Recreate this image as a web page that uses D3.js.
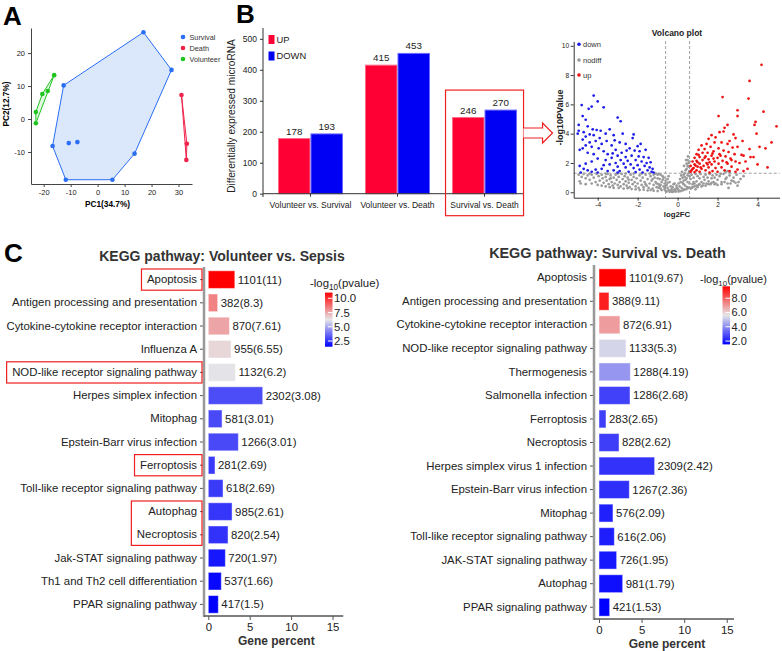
<!DOCTYPE html>
<html><head><meta charset="utf-8">
<script src="https://cdn.jsdelivr.net/npm/d3@7"></script>
<style>
body{margin:0;background:#fff;}
svg{display:block;font-family:"Liberation Sans",Arial,Helvetica,sans-serif;}
</style></head><body>
<svg id="c" width="782" height="651"></svg>
<script>
// ---------------- DATA ----------------
// Panel A: PCA
const pcaGroups = ["Survival", "Death", "Volunteer"];
const pcaSurvival = [[17.0,26.3],[27.4,14.9],[13.7,-10.5],[5.5,-18.4],[-11.8,-18.4],[-16.7,-8.2],[-12.6,10.2],[-10.7,-7.3],[-7.5,-7.0]];
const pcaDeath = [[31.1,7.3],[33.1,-7.5],[32.9,-12.4]];
const pcaVolunteer = [[-16.1,13.3],[-18.5,8.5],[-20.5,7.6],[-22.9,2.1],[-22.9,-1.3]];
const pcaTicksX = [-20,-10,0,10,20,30];
const pcaTicksY = [-10,0,10,20];

// Panel B: DE microRNA counts
const degComparisons = ["Volunteer vs. Survival", "Volunteer vs. Death", "Survival vs. Death"];
const degUp = [178, 415, 246];
const degDown = [193, 453, 270];
const degTicks = [0,100,200,300,400,500];

// Panel B: volcano plot (log2FC, -log10 p)
const volcanoDown = [[-4.2,6.6],[-4.0,6.2],[-4.8,5.95],[-3.7,5.8],[-4.3,5.85],[-4.45,5.7],[-4.75,5.2],[-3.0,5.1],[-4.6,4.95],[-4.95,4.6],[-2.85,4.85],[-4.5,4.5],[-4.25,4.3],[-4.05,4.25],[-3.85,4.2],[-4.95,4.2],[-5.0,4.0],[-4.7,4.1],[-4.4,3.95],[-4.6,3.8],[-4.2,3.9],[-3.9,3.7],[-3.6,4.0],[-3.4,4.3],[-3.2,3.9],[-2.75,4.0],[-2.2,3.95],[-2.25,3.7],[-4.75,3.6],[-4.4,3.4],[-4.1,3.5],[-3.8,3.3],[-3.55,3.5],[-4.6,3.2],[-4.3,3.1],[-3.95,3.0],[-3.3,3.2],[-2.9,3.4],[-2.6,3.3],[-2.0,3.15],[-1.85,3.3],[-2.4,3.0],[-2.15,2.85],[-1.9,2.8],[-1.6,2.9],[-3.7,2.8],[-3.5,2.6],[-3.1,2.9],[-2.8,2.7],[-4.5,2.7],[-4.9,2.9],[-4.2,2.6],[-3.0,2.5],[-2.6,2.4],[-2.3,2.5],[-1.95,2.45],[-1.7,2.4],[-1.45,2.35],[-3.3,2.35],[-3.6,2.2],[-2.85,2.2],[-2.5,2.15],[-2.1,2.2],[-1.8,2.1],[-1.55,2.0],[-1.35,2.05],[-3.1,2.0],[-2.7,1.95],[-2.35,1.9],[-2.0,1.85],[-1.65,1.8],[-1.4,1.7],[-1.25,1.6],[-3.4,1.9],[-3.0,1.75],[-2.6,1.7],[-2.2,1.65],[-1.9,1.55],[-1.5,1.5],[-1.3,1.4],[-4.9,1.8],[-4.7,1.6],[-4.5,1.5],[-4.3,1.4],[-4.6,1.95],[-4.1,1.55],[-3.8,1.6],[-3.5,1.45],[-3.2,1.5],[-2.9,1.45],[-2.45,1.4],[-2.1,1.38],[-1.75,1.35],[-4.0,1.35],[-3.0,1.35],[-1.2,1.35],[-4.85,1.35],[-3.7,1.85],[-4.3,2.1],[-4.0,2.3],[-2.55,2.85],[-3.25,2.65],[-4.75,3.0],[-3.15,3.55]];
const volcanoUp = [[4.2,8.7],[3.6,7.6],[3.55,6.4],[2.25,6.5],[4.3,5.5],[3.0,5.6],[3.0,5.2],[2.05,5.2],[3.9,4.8],[4.95,4.5],[3.85,4.6],[2.5,4.6],[2.35,4.4],[2.3,4.15],[2.1,4.1],[3.95,4.0],[4.7,3.4],[4.1,3.1],[4.4,3.0],[3.6,2.95],[3.65,2.4],[3.8,2.4],[3.3,2.5],[3.5,1.6],[4.0,1.9],[3.1,2.0],[2.8,3.95],[2.9,3.7],[2.6,3.5],[1.7,3.9],[1.9,3.75],[1.55,3.65],[2.2,3.4],[1.85,3.4],[1.45,3.3],[1.2,3.2],[2.5,3.3],[3.0,3.1],[2.75,3.05],[1.65,3.1],[2.05,3.0],[1.35,2.95],[1.05,2.9],[2.3,2.85],[1.8,2.8],[2.55,2.75],[1.5,2.7],[1.25,2.7],[0.95,2.6],[2.1,2.6],[2.85,2.6],[3.2,2.55],[1.7,2.5],[2.4,2.45],[1.4,2.45],[1.1,2.4],[0.85,2.35],[2.0,2.35],[2.65,2.3],[1.55,2.25],[1.25,2.2],[0.95,2.15],[0.75,2.1],[2.25,2.15],[1.85,2.1],[2.9,2.1],[1.45,2.0],[1.1,1.95],[0.85,1.9],[0.65,1.8],[2.05,1.95],[1.7,1.9],[2.5,1.95],[1.3,1.8],[1.0,1.75],[0.8,1.65],[0.7,1.5],[1.55,1.7],[2.2,1.7],[1.9,1.65],[2.7,1.75],[1.2,1.6],[0.95,1.5],[1.4,1.5],[1.75,1.45],[2.35,1.5],[2.6,1.45],[0.65,1.4],[0.85,1.38],[1.1,1.4],[1.6,1.35],[2.0,1.4],[3.0,1.55],[3.3,1.45],[2.9,1.4],[0.75,1.6],[1.0,2.05],[1.35,2.35],[1.6,2.05],[2.15,2.5],[2.45,2.05],[0.9,1.82],[1.15,1.7],[1.5,1.9],[1.8,2.3],[2.7,2.2],[3.4,2.1],[1.05,2.55],[1.75,2.65],[3.25,3.5],[4.5,1.7]];
const volcanoNodiff = [[-4.95,1.2],[-4.9,0.75],[-4.8,1.05],[-4.7,1.25],[-4.6,0.95],[-4.5,1.15],[-4.4,0.85],[-4.3,1.2],[-4.2,1.0],[-4.1,0.7],[-4.05,1.25],[-4.85,0.6],[-3.95,1.1],[-3.9,0.8],[-3.8,1.2],[-3.75,0.95],[-3.7,0.65],[-3.6,1.05],[-3.55,0.8],[-3.5,1.25],[-3.45,0.55],[-3.4,0.9],[-3.35,1.15],[-3.3,0.7],[-3.25,0.45],[-3.2,1.0],[-3.15,0.6],[-3.1,1.2],[-3.05,0.85],[-3.0,0.5],[-2.95,1.05],[-2.9,0.7],[-2.85,0.4],[-2.8,1.25],[-2.75,0.9],[-2.7,0.55],[-2.65,1.1],[-2.6,0.75],[-2.55,0.45],[-2.5,1.0],[-2.45,0.65],[-2.4,0.35],[-2.35,1.2],[-2.3,0.85],[-2.25,0.55],[-2.2,1.05],[-2.15,0.7],[-2.1,0.4],[-2.05,0.95],[-2.0,0.6],[-2.6,1.28],[-2.2,1.28],[-3.0,1.28],[-1.95,0.3],[-1.9,1.15],[-1.85,0.8],[-1.8,0.5],[-1.75,1.0],[-1.7,0.35],[-1.65,0.7],[-1.6,1.2],[-1.55,0.45],[-1.5,0.9],[-1.45,0.3],[-1.4,0.6],[-1.35,1.1],[-1.3,0.8],[-1.25,0.25],[-1.2,0.5],[-1.15,1.0],[-1.1,0.7],[-1.05,0.35],[-1.0,1.2],[-1.8,1.28],[-1.4,1.28],[-1.1,1.28],[-0.95,0.55],[-0.9,0.9],[-0.85,0.25],[-0.8,0.7],[-0.75,1.1],[-0.7,0.4],[-0.65,0.2],[-0.6,0.8],[-0.95,1.25],[-0.7,1.0],[-0.8,0.15],[-0.55,0.5],[-0.5,0.3],[-0.45,0.15],[-0.4,0.7],[-0.35,0.1],[-0.3,0.05],[-0.25,0.35],[-0.2,0.08],[-0.15,0.2],[-0.1,0.12],[-0.05,0.45],[0.0,0.25],[-0.5,0.9],[-0.35,0.4],[-0.2,0.55],[-0.45,1.1],[-0.3,0.2],[-0.15,0.6],[0.05,0.15],[0.1,0.4],[0.15,0.7],[0.2,0.3],[0.25,1.0],[0.3,0.55],[0.35,1.3],[0.4,0.85],[0.45,1.6],[0.5,1.15],[0.55,2.0],[0.6,0.6],[0.12,0.9],[0.22,1.4],[0.32,1.8],[0.42,2.2],[0.52,2.45],[0.28,0.2],[0.38,0.45],[0.48,0.35],[0.58,1.45],[0.18,1.15],[0.45,1.95],[0.55,1.75],[0.35,1.05],[0.65,0.9],[0.7,1.2],[0.75,0.55],[0.8,1.0],[0.85,0.4],[0.9,1.25],[0.95,0.75],[1.0,1.1],[1.05,0.5],[1.1,0.95],[1.15,1.25],[1.2,0.7],[1.25,0.45],[1.3,1.05],[1.35,0.85],[1.4,1.2],[1.45,0.6],[1.5,1.0],[1.55,0.75],[1.6,1.25],[1.65,0.55],[1.7,0.95],[1.75,1.15],[1.8,0.7],[1.85,1.0],[1.9,0.6],[1.95,1.2],[0.7,0.3],[0.9,0.2],[1.0,0.35],[0.8,0.7],[2.0,0.85],[2.1,1.1],[2.2,0.7],[2.3,1.25],[2.4,0.9],[2.5,0.6],[2.6,1.15],[2.7,0.8],[2.8,1.0],[2.9,0.65],[3.0,0.45],[2.45,1.0],[2.15,1.25],[2.55,0.3],[3.15,0.9],[-4.6,0.55],[-4.3,0.6],[-4.0,0.5],[-3.8,0.45],[-3.6,0.4],[-3.4,0.35],[-3.2,0.3],[-2.95,0.3],[-2.7,0.25],[-2.5,0.28],[-2.3,0.22],[-2.1,0.2],[-1.9,0.15],[-1.7,0.18],[-1.5,0.12],[-1.35,0.15],[-1.2,0.1],[-1.0,0.08],[-0.9,0.4],[-0.6,0.1],[-0.55,0.05],[-0.4,0.03],[-0.25,0.02],[-0.1,0.04],[0.05,0.05],[0.15,0.08],[0.25,0.12],[0.35,0.18],[0.45,0.22],[0.55,0.3],[0.65,0.25],[0.75,0.35],[0.85,0.6],[0.95,0.45],[1.1,0.55],[1.2,0.4],[1.3,0.6],[1.4,0.45],[1.55,0.55],[1.7,0.65],[1.85,0.55],[2.0,0.5],[2.2,0.55],[2.35,0.7],[2.65,0.6],[2.8,0.75],[3.05,0.7],[2.95,1.2],[3.3,1.1],[-4.4,1.28],[-3.6,1.28],[-3.35,0.95],[-2.45,0.85],[-1.6,0.55],[-1.25,0.9],[-0.6,0.45],[0.3,0.8],[0.5,0.7],[0.05,0.6],[-0.05,0.3],[-1.2,1.2],[-1.0,0.95],[-0.85,1.2],[-0.85,0.5],[-0.65,0.6],[-0.75,0.85],[-1.05,0.6],[-0.95,0.3],[-0.5,0.65],[-0.65,0.35],[0.4,1.5],[0.5,1.8],[0.6,1.1],[0.55,1.3],[0.3,1.2],[0.25,0.65],[0.45,0.95],[0.6,2.1],[0.5,2.2],[2.4,1.4],[2.5,1.45],[2.6,1.35]];
const volcanoTicksX = [-4,-2,0,2,4];
const volcanoTicksY = [0,2,4,6,8,10];

// Panel C left: Volunteer vs. Sepsis
const keggLeftPathways = ["Apoptosis","Antigen processing and presentation","Cytokine-cytokine receptor interaction","Influenza A","NOD-like receptor signaling pathway","Herpes simplex infection","Mitophag","Epstein-Barr virus infection","Ferroptosis","Toll-like receptor signaling pathway","Autophag","Necroptosis","Jak-STAT signaling pathway","Th1 and Th2 cell differentiation","PPAR signaling pathway"];
const keggLeftCounts = [1101,382,870,955,1132,2302,581,1266,281,618,985,820,720,537,417];
const keggLeftLogP = [11,8.3,7.61,6.55,6.2,3.08,3.01,3.01,2.69,2.69,2.61,2.54,1.97,1.66,1.5];
const keggLeftPercent = [3.2,1.13,2.55,2.75,3.27,6.57,1.66,3.63,0.81,1.78,2.87,2.38,2.06,1.57,1.21];
const keggLeftLegendTicks = [2.5,5.0,7.5,10.0];
const keggLeftBoxed = [["Apoptosis"],["NOD-like receptor signaling pathway"],["Ferroptosis"],["Autophag","Necroptosis"]];

// Panel C right: Survival vs. Death
const keggRightPathways = ["Apoptosis","Antigen processing and presentation","Cytokine-cytokine receptor interaction","NOD-like receptor signaling pathway","Thermogenesis","Salmonella infection","Ferroptosis","Necroptosis","Herpes simplex virus 1 infection","Epstein-Barr virus infection","Mitophag","Toll-like receptor signaling pathway","JAK-STAT signaling pathway","Autophag","PPAR signaling pathway"];
const keggRightCounts = [1101,388,872,1133,1288,1286,283,828,2309,1267,576,616,726,981,421];
const keggRightLogP = [9.67,9.11,6.91,5.3,4.19,2.68,2.65,2.62,2.42,2.36,2.09,2.06,1.95,1.79,1.53];
const keggRightPercent = [3.17,1.17,2.46,3.17,3.68,3.64,0.82,2.35,6.53,3.56,1.64,1.8,2.07,2.78,1.25];
const keggRightLegendTicks = [2.0,4.0,6.0,8.0];
const keggTicks = [0,5,10,15];

// ---------------- DRAW ----------------
const svg = d3.select("#c");
svg.append("rect").attr("width",782).attr("height",651).attr("fill","#fff");

function styleAxis(g, fs, col){
  g.selectAll("path.domain").attr("stroke", col);
  g.selectAll(".tick line").attr("stroke", col);
  g.selectAll(".tick text").attr("font-size", fs).attr("fill","#222").attr("font-family",null);
  g.attr("font-family", null);
}

// Panel letters
[["A",3,25],["B",236,23],["C",4,262]].forEach(([t,x,y]) =>
  svg.append("text").attr("x",x).attr("y",y).attr("font-size",26).attr("font-weight","bold").attr("fill","#000").text(t));

// ===== Panel A =====
{
  const g = svg.append("g");
  const x = d3.scaleLinear().domain([-24.7,35]).range([31,192]);
  const y = d3.scaleLinear().domain([-19.7,27.6]).range([184,28]);
  const col = {Survival:"#2a6ef5", Death:"#f0234b", Volunteer:"#1fc41f"};
  const fill = {Survival:"#dbe7fb", Death:"#fde3e8", Volunteer:"#e3f7e3"};
  const data = {Survival:pcaSurvival, Death:pcaDeath, Volunteer:pcaVolunteer};
  pcaGroups.forEach(k => {
    const pts = data[k].map(d => [x(d[0]), y(d[1])]);
    const hull = d3.polygonHull(pts);
    g.append("path").attr("d","M"+hull.join("L")+"Z").attr("fill",fill[k]).attr("stroke",col[k]).attr("stroke-width",1);
  });
  pcaGroups.forEach(k => {
    g.selectAll(null).data(data[k]).join("circle")
      .attr("cx",d=>x(d[0])).attr("cy",d=>y(d[1])).attr("r",2.3).attr("fill",col[k]);
  });
  const ax = g.append("g").attr("transform","translate(0,184)")
    .call(d3.axisBottom(x).tickValues(pcaTicksX).tickFormat(d=>d).tickSize(3).tickSizeOuter(0));
  styleAxis(ax, 7.5, "#444");
  const ay = g.append("g").attr("transform","translate(31,0)")
    .call(d3.axisLeft(y).tickValues(pcaTicksY).tickFormat(d=>d).tickSize(3).tickSizeOuter(0));
  styleAxis(ay, 7.5, "#444");
  g.append("text").attr("x",107.5).attr("y",207).attr("text-anchor","middle").attr("font-size",8.3).attr("font-weight","bold").text("PC1(34.7%)");
  g.append("text").attr("transform","translate(9,104) rotate(-90)").attr("text-anchor","middle").attr("font-size",8.3).attr("font-weight","bold").text("PC2(12.7%)");
  pcaGroups.forEach((k,i) => {
    g.append("circle").attr("cx",183).attr("cy",37+i*11).attr("r",2.3).attr("fill",col[k]);
    g.append("text").attr("x",189.5).attr("y",37+i*11).attr("dy","0.35em").attr("font-size",7.3).attr("fill","#333").text(k);
  });
}

// ===== Panel B: bars =====
{
  const g = svg.append("g");
  const x = d3.scaleBand().domain(degComparisons).range([267,528]).paddingInner(0.253).paddingOuter(0.126);
  const sub = d3.scaleBand().domain(["UP","DOWN"]).range([0, x.bandwidth()]);
  const y = d3.scaleLinear().domain([0,535]).range([193.7,28]);
  const colFill = {UP:"#ff0035", DOWN:"#0000f5"};
  const colStroke = {UP:"#ff6b86", DOWN:"#6b6bff"};
  const rows = [];
  degComparisons.forEach((c,i) => { rows.push({c, k:"UP", v:degUp[i]}); rows.push({c, k:"DOWN", v:degDown[i]}); });
  g.selectAll(null).data(rows).join("rect")
    .attr("x",d=>x(d.c)+sub(d.k)+0.5).attr("y",d=>y(d.v)).attr("width",sub.bandwidth()-1)
    .attr("height",d=>y(0)-y(d.v)).attr("fill",d=>colFill[d.k]).attr("stroke",d=>colStroke[d.k]).attr("stroke-width",1);
  g.selectAll(null).data(rows).join("text")
    .attr("x",d=>x(d.c)+sub(d.k)+sub.bandwidth()/2).attr("y",d=>y(d.v)-4)
    .attr("text-anchor","middle").attr("font-size",9.8).attr("fill","#222").text(d=>d.v);
  const ay = g.append("g").attr("transform","translate(263,0)")
    .call(d3.axisLeft(y).tickValues(degTicks).tickSize(3).tickSizeOuter(0));
  styleAxis(ay, 8.5, "#333");
  ay.select("path.domain").attr("d","M0,28V197");
  const ax = g.append("g").attr("transform","translate(0,193.7)")
    .call(d3.axisBottom(x).tickSize(3).tickSizeOuter(0).tickPadding(5));
  styleAxis(ax, 8.5, "#333");
  ax.select("path.domain").attr("d","M263,0H523");
  g.append("text").attr("transform","translate(235,116) rotate(-90)").attr("text-anchor","middle").attr("font-size",10.1).attr("fill","#222").text("Differentially expressed microRNA");
  // legend
  [["UP",35],["DOWN",51.5]].forEach(([k,yy]) => {
    g.append("rect").attr("x",268.5).attr("y",yy).attr("width",6).attr("height",9).attr("fill",colFill[k]);
    g.append("text").attr("x",276.5).attr("y",yy+4.5).attr("dy","0.35em").attr("font-size",9.4).attr("fill","#222").text(k);
  });
  // highlight box + arrow
  const hc = degComparisons[2];
  const bx0 = x(hc)-6.5, bx1 = x(hc)+x.bandwidth()+6.5;
  const by0 = y(d3.max([degUp[2],degDown[2]]))-20;
  g.append("rect").attr("x",bx0).attr("y",by0).attr("width",bx1-bx0).attr("height",215.7-by0)
    .attr("fill","none").attr("stroke","#ee2020").attr("stroke-width",1.2);
  const ay0 = 133;
  g.append("path").attr("d",`M${bx1},${ay0-5}H${bx1+19}V${ay0-10}L${bx1+29},${ay0}L${bx1+19},${ay0+10}V${ay0+5}H${bx1}`)
    .attr("fill","#fff").attr("stroke","#ee2020").attr("stroke-width",1.2);
}

// ===== Panel B: volcano =====
{
  const g = svg.append("g");
  const x = d3.scaleLinear().domain([-5.2,5.1]).range([573.7,779.5]);
  const y = d3.scaleLinear().domain([-0.37,10.3]).range([197.7,41.4]);
  [-0.6,0.6].forEach(v => g.append("line").attr("x1",x(v)).attr("x2",x(v)).attr("y1",41).attr("y2",197.7)
    .attr("stroke","#888").attr("stroke-dasharray","3,2").attr("stroke-width",0.8));
  g.append("line").attr("x1",573.7).attr("x2",779.5).attr("y1",y(1.3)).attr("y2",y(1.3))
    .attr("stroke","#888").attr("stroke-dasharray","3,2").attr("stroke-width",0.8);
  const sets = [[volcanoNodiff,"#9a9a9a"],[volcanoDown,"#1c1ce8"],[volcanoUp,"#ee1111"]];
  sets.forEach(([pts,c]) => g.selectAll(null).data(pts).join("circle")
    .attr("cx",d=>x(d[0])).attr("cy",d=>y(d[1])).attr("r",1.35).attr("fill",c));
  const ax = g.append("g").attr("transform","translate(0,197.7)")
    .call(d3.axisBottom(x).tickValues(volcanoTicksX).tickFormat(d=>d).tickSize(3).tickSizeOuter(0).tickPadding(1.5));
  styleAxis(ax, 6.6, "#333");
  const ay = g.append("g").attr("transform","translate(573.7,0)")
    .call(d3.axisLeft(y).tickValues(volcanoTicksY).tickSize(3).tickSizeOuter(0).tickPadding(1.5));
  styleAxis(ay, 6.6, "#333");
  g.append("text").attr("x",677).attr("y",36).attr("text-anchor","middle").attr("font-size",8.5).attr("font-weight","bold").attr("fill","#222").text("Volcano plot");
  g.append("text").attr("x",677).attr("y",217).attr("text-anchor","middle").attr("font-size",7.8).attr("font-weight","bold").attr("fill","#222").text("log2FC");
  g.append("text").attr("transform","translate(562.5,117.5) rotate(-90)").attr("text-anchor","middle").attr("font-size",9).attr("font-weight","bold").attr("fill","#222").text("-log10PValue");
  [["down","#1c1ce8",44.3],["nodiff","#9a9a9a",60],["up","#ee1111",75]].forEach(([t,c,yy]) => {
    g.append("circle").attr("cx",579).attr("cy",yy).attr("r",1.8).attr("fill",c);
    g.append("text").attr("x",583).attr("y",yy).attr("dy","0.35em").attr("font-size",7.5).attr("fill","#333").text(t);
  });
}

// ===== Panel C =====
function kegg(cfg){
  const g = svg.append("g");
  const y = d3.scaleBand().domain(cfg.names).range(cfg.yr).paddingInner(0.24).paddingOuter(0.12);
  const x = d3.scaleLinear().domain([0,cfg.xmax]).range([cfg.x0,cfg.x1]);
  const lo = d3.min(cfg.logp), hi = d3.max(cfg.logp);
  const col = d3.scaleLinear().domain([lo,(lo+hi)/2,hi]).range(["#0000ff","#e6e6e8","#ff0000"]);
  const rows = cfg.names.map((n,i)=>({n, c:cfg.counts[i], p:cfg.logp[i], v:cfg.pct[i]}));
  const bottom = cfg.yr[1];
  g.selectAll(null).data(rows).join("rect")
    .attr("x",x(0)).attr("y",d=>y(d.n)).attr("width",d=>x(d.v)-x(0)).attr("height",y.bandwidth())
    .attr("fill",d=>col(d.p)).attr("stroke","#fff").attr("stroke-opacity",0.45).attr("stroke-width",1);
  g.selectAll(null).data(rows).join("text")
    .attr("x",d=>x(d.v)+3).attr("y",d=>y(d.n)+y.bandwidth()/2).attr("dy","0.35em")
    .attr("font-size",11.4).attr("fill","#222").text(d=>`${d.c}(${d.p})`);
  const ay = g.append("g").attr("transform",`translate(${cfg.ax},0)`)
    .call(d3.axisLeft(y).tickSize(4).tickSizeOuter(0).tickPadding(3));
  styleAxis(ay, 11.4, "#555");
  ay.select("path.domain").remove();
  g.append("line").attr("x1",cfg.ax).attr("x2",cfg.ax).attr("y1",cfg.yr[0]-1).attr("y2",bottom+1)
    .attr("stroke","#999").attr("stroke-width",2.5);
  const ax = g.append("g").attr("transform",`translate(0,${bottom})`)
    .call(d3.axisBottom(x).tickValues(keggTicks).tickSize(4).tickSizeOuter(0));
  styleAxis(ax, 11.4, "#555");
  ax.select("path.domain").attr("d",`M${cfg.ax},0H${cfg.x1}`).attr("stroke-width",1.5);
  g.append("text").attr("x",(x(0)+cfg.x1)/2+0.5).attr("y",bottom+29).attr("text-anchor","middle")
    .attr("font-size",12).attr("font-weight","bold").attr("fill","#333").text("Gene percent");
  g.append("text").attr("x",cfg.tx).attr("y",cfg.ty).attr("text-anchor","middle").attr("font-size",cfg.tfs)
    .attr("font-weight","bold").attr("fill","#333").text(cfg.title);
  const lt = g.append("text").attr("x",cfg.lx).attr("y",cfg.ly).attr("font-size",cfg.lfs).attr("fill","#222");
  lt.append("tspan").text("-log");
  lt.append("tspan").attr("font-size",cfg.lfs*0.72).attr("dy",3).text("10");
  lt.append("tspan").attr("dy",-3).text("(pvalue)");
  const ly = d3.scaleLinear().domain([lo,hi]).range(cfg.cbr);
  const gid = "grad"+cfg.id;
  const grad = svg.append("defs").append("linearGradient").attr("id",gid).attr("x1",0).attr("x2",0).attr("y1",1).attr("y2",0);
  d3.range(0,1.0001,0.1).forEach(t => grad.append("stop").attr("offset",t).attr("stop-color",col(lo+(hi-lo)*t)));
  g.append("rect").attr("x",cfg.cbx).attr("y",cfg.cbr[1]).attr("width",7.5).attr("height",cfg.cbr[0]-cfg.cbr[1]).attr("fill",`url(#${gid})`);
  cfg.lticks.forEach(v => {
    g.append("line").attr("x1",cfg.cbx+3).attr("x2",cfg.cbx+7.5).attr("y1",ly(v)).attr("y2",ly(v)).attr("stroke","#fff").attr("stroke-width",1);
    g.append("text").attr("x",cfg.cbx+9).attr("y",ly(v)).attr("dy","0.35em").attr("font-size",cfg.lfs).attr("fill","#222").text(v.toFixed(1));
  });
  if (cfg.boxed){
    const tickNodes = {};
    ay.selectAll(".tick").each(function(d){ tickNodes[d] = d3.select(this).select("text").node(); });
    cfg.boxed.forEach(list => {
      const xs = list.map(n => tickNodes[n].getBBox().x + cfg.ax);
      const x0 = d3.min(xs) - 5.5;
      const y0 = y(list[0]) + y.bandwidth()/2 - 10.6;
      const y1 = y(list[list.length-1]) + y.bandwidth()/2 + 10.6;
      g.append("rect").attr("x",x0).attr("y",y0).attr("width",cfg.ax-2-x0).attr("height",y1-y0)
        .attr("fill","none").attr("stroke","#ee2020").attr("stroke-width",1.2);
    });
  }
}
kegg({id:"L", names:keggLeftPathways, counts:keggLeftCounts, logp:keggLeftLogP, pct:keggLeftPercent,
  yr:[268,616], x0:208.3, x1:343.3, xmax:16.3, ax:204, title:"KEGG pathway: Volunteer vs. Sepsis", tx:222, ty:261, tfs:14,
  lx:310, ly:287, lfs:11.4, cbx:325, cbr:[346.7,292.6], lticks:keggLeftLegendTicks, boxed:keggLeftBoxed});
kegg({id:"R", names:keggRightPathways, counts:keggRightCounts, logp:keggRightLogP, pct:keggRightPercent,
  yr:[266,619], x0:599, x1:734, xmax:15.85, ax:594, title:"KEGG pathway: Survival vs. Death", tx:607.5, ty:257.5, tfs:14.4,
  lx:700, ly:283, lfs:11, cbx:722.5, cbr:[344.4,286.3], lticks:keggRightLegendTicks});
</script>
</body></html>
